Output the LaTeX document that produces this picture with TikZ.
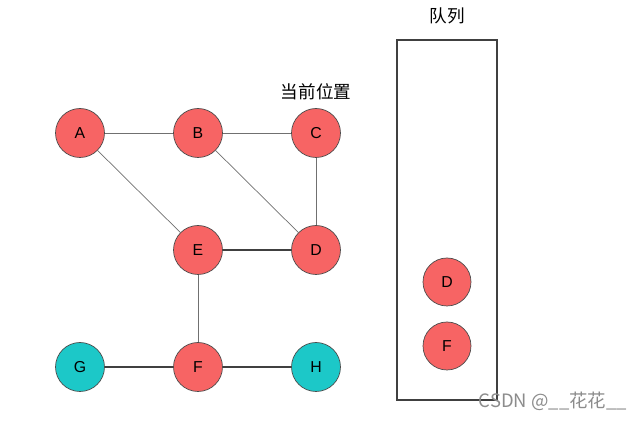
\documentclass[tikz,border=0pt]{standalone}
\usepackage{fontspec}
\setmainfont{Liberation Sans}
\newfontfamily\cjk{Noto Sans CJK SC}
\definecolor{nodered}{HTML}{F76464}
\definecolor{nodeteal}{HTML}{1CC8C8}
\definecolor{edgegray}{HTML}{707070}
\usetikzlibrary{positioning}

\begin{document}
\begin{tikzpicture}[x=0.02cm, y=-0.02cm,
    vertex/.style={circle, draw=black!70, fill=nodered, minimum size=0.98cm, inner sep=0pt, font=\fontsize{9}{10}\selectfont},
    visited/.style={vertex, fill=nodeteal},
    edge/.style={edgegray, thin},
    strong/.style={black!75, line width=0.9pt}]
  \useasboundingbox (0,0) rectangle (640,421);

  % Graph vertices
  \node[vertex] (A) at (80,133) {A};
  \node[vertex] (B) at (198,133) {B};
  \node[vertex] (C) at (316,133) {C};
  \node[vertex] (E) at (198,250) {E};
  \node[vertex] (D) at (316,250) {D};
  \node[visited] (G) at (80,367) {G};
  \node[vertex] (F) at (198,367) {F};
  \node[visited] (H) at (316,367) {H};
  \node[font=\cjk\fontsize{10}{12}\selectfont, above=1pt of C] (cur) {当前位置};

  % Edges
  \draw[edge] (A) -- (B);
  \draw[edge] (B) -- (C);
  \draw[edge] (A) -- (E);
  \draw[edge] (B) -- (D);
  \draw[edge] (C) -- (D);
  \draw[strong] (E) -- (D);
  \draw[edge] (E) -- (F);
  \draw[strong] (G) -- (F);
  \draw[strong] (F) -- (H);

  % Queue
  \node[draw=black!75, thick, minimum width=2cm, minimum height=7.2cm, inner sep=0pt] (queue) at (447,220) {};
  \node[font=\cjk\fontsize{10}{12}\selectfont, above=5pt of queue.north] (qlabel) {队列};
  \node[vertex, minimum size=0.96cm] (qD) at (447,282) {D};
  \node[vertex, minimum size=0.96cm] (qF) at (447,346) {F};

  % Watermark
  \node[font=\cjk\fontsize{10.5}{12}\selectfont, text=black!45] (mark) at (553,401) {CSDN @\_\_花花\_\_};
\end{tikzpicture}
\end{document}
